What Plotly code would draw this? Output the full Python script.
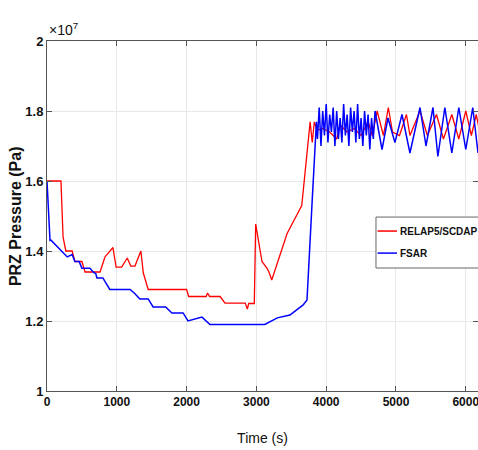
import plotly.graph_objects as go

# RELAP5/SCDAP (time in s, pressure in 1e7 Pa)
relap_t = [0, 200, 230, 270, 360, 400, 500, 545, 760, 830, 945, 990, 1070, 1150, 1200, 1260, 1345, 1380,
           1450, 2000, 2030, 2280, 2300, 2330, 2480, 2550, 2840, 2870, 2890, 2970, 2990, 3080, 3150, 3180,
           3220, 3440, 3650, 3770, 3800, 3830, 3870, 3950, 4050, 4150, 4200, 4300, 4400, 4500, 4600,
           4660, 4730, 4820, 4890, 4950, 5050, 5150, 5200, 5344, 5450, 5580, 5680, 5800, 5900, 6000,
           6080, 6150, 6200]
relap_p = [1.60, 1.60, 1.44, 1.40, 1.40, 1.37, 1.37, 1.34, 1.34, 1.383, 1.41, 1.354, 1.354, 1.38, 1.357,
           1.357, 1.40, 1.337, 1.29, 1.29, 1.27, 1.27, 1.28, 1.27, 1.27, 1.251, 1.251, 1.234, 1.25, 1.25,
           1.477, 1.37, 1.351, 1.34, 1.317, 1.45, 1.53, 1.769, 1.71, 1.769, 1.745, 1.75, 1.74, 1.72, 1.76,
           1.74, 1.75, 1.73, 1.77, 1.73, 1.80, 1.73, 1.81, 1.74, 1.73, 1.79, 1.73, 1.80, 1.73, 1.79, 1.72,
           1.79, 1.72, 1.80, 1.73, 1.79, 1.74]

# FSAR
fsar_t = [0, 43, 57, 290, 360, 400, 460, 500, 615, 660, 700, 715, 800, 900, 1190, 1250, 1330, 1450, 1520,
          1700, 1790, 1950, 2020, 2220, 2335, 3120, 3300, 3480, 3670, 3725, 3800, 3860,
          3875, 3900, 3925, 3950, 3975, 4000, 4025, 4050, 4075, 4100, 4125, 4150, 4175, 4200, 4225,
          4250, 4275, 4300, 4325, 4350, 4375, 4400, 4425, 4450, 4475, 4500, 4525, 4550, 4575, 4600,
          4625, 4650, 4675, 4700, 4800, 4885, 4985, 5086, 5200, 5344, 5430, 5530, 5600, 5700, 5800,
          5900, 6000, 6100, 6175]
fsar_p = [1.60, 1.43, 1.431, 1.383, 1.39, 1.37, 1.37, 1.351, 1.351, 1.34, 1.335, 1.323, 1.323, 1.29, 1.29,
          1.28, 1.263, 1.263, 1.24, 1.24, 1.223, 1.223, 1.20, 1.211, 1.19, 1.19, 1.209, 1.217, 1.246, 1.26,
          1.546, 1.769,
          1.72, 1.81, 1.70, 1.80, 1.73, 1.82, 1.71, 1.79, 1.74, 1.81, 1.70, 1.80, 1.72, 1.78, 1.71,
          1.82, 1.73, 1.79, 1.70, 1.81, 1.74, 1.80, 1.71, 1.82, 1.72, 1.78, 1.70, 1.80, 1.73, 1.79,
          1.69, 1.78, 1.72, 1.80, 1.69, 1.78, 1.71, 1.79, 1.68, 1.81, 1.70, 1.81, 1.67, 1.81, 1.68,
          1.81, 1.69, 1.81, 1.68]

x_ticks = [0, 1000, 2000, 3000, 4000, 5000, 6000]
y_ticks = [1, 1.2, 1.4, 1.6, 1.8, 2]
y_tick_text = ["1", "1.2", "1.4", "1.6", "1.8", "2"]

series_names = ["RELAP5/SCDAP", "FSAR"]
series_colors = ["#ff0000", "#0000ff"]

FONT = "Liberation Sans, Arial"
TXT = "#111111"

fig = go.Figure()
fig.add_trace(go.Scatter(x=relap_t, y=relap_p, mode="lines", name=series_names[0],
                         line=dict(color=series_colors[0], width=1.3), showlegend=False))
fig.add_trace(go.Scatter(x=fsar_t, y=fsar_p, mode="lines", name=series_names[1],
                         line=dict(color=series_colors[1], width=1.5), showlegend=False))

axis_common = dict(showline=True, linecolor="#555555", linewidth=1, mirror="allticks",
                   ticks="inside", ticklen=5, tickcolor="#555555",
                   showgrid=True, gridcolor="#e8e8e8", gridwidth=1, zeroline=False,
                   ticklabeloverflow="allow")

fig.update_xaxes(range=[0, 6175], tickvals=x_ticks,
                 tickfont=dict(family=FONT, size=12, color=TXT, weight="bold"),
                 title=dict(text="Time (s)", font=dict(family=FONT, size=14, color=TXT),
                            standoff=24),
                 **axis_common)
fig.update_yaxes(range=[1, 2], tickvals=y_ticks, ticktext=y_tick_text,
                 tickfont=dict(family=FONT, size=13, color=TXT, weight="bold"),
                 **axis_common)

# y-axis title placed as a rotated annotation
fig.add_annotation(x=-0.074, y=0.5, xref="paper", yref="paper", xanchor="center", yanchor="middle",
                   text="PRZ Pressure (Pa)", textangle=-90, showarrow=False,
                   font=dict(family=FONT, size=16, color=TXT, weight="bold"))

fig.add_annotation(x=0, y=1, xref="paper", yref="paper", xanchor="left", yanchor="bottom",
                   text="×10<sup>7</sup>", showarrow=False, yshift=1,
                   font=dict(family=FONT, size=14, color=TXT))

# legend box drawn by hand (the reference legend runs past the right edge)
leg_x0, leg_x1, leg_y0, leg_y1 = 0.7633, 1.02, 0.3514, 0.497
fig.add_shape(type="rect", xref="paper", yref="paper", x0=leg_x0, x1=leg_x1, y0=leg_y0, y1=leg_y1,
              line=dict(color="#666666", width=1), fillcolor="white", layer="above")
row_y = [0.457, 0.394]
for name, color, yy in zip(series_names, series_colors, row_y):
    fig.add_shape(type="line", xref="paper", yref="paper", x0=0.767, x1=0.812, y0=yy, y1=yy,
                  line=dict(color=color, width=1.5), layer="above")
    fig.add_annotation(x=0.815, y=yy, xref="paper", yref="paper", xanchor="left", yanchor="middle",
                       text=name, showarrow=False,
                       font=dict(family=FONT, size=10, color=TXT, weight="bold"))

fig.update_layout(
    width=478, height=450,
    margin=dict(l=47, r=0, t=41, b=59, autoexpand=False),
    plot_bgcolor="white", paper_bgcolor="white",
    showlegend=False,
)

fig.write_html("out.html")
